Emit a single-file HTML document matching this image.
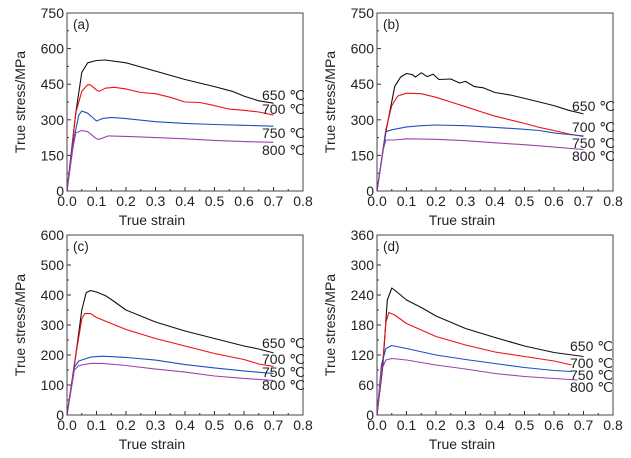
<!DOCTYPE html>
<html><head><meta charset="utf-8"><style>
body{margin:0;background:#fff}
svg{display:block}
text{font-family:"Liberation Sans",sans-serif;fill:#222}
</style></head><body>
<svg id="fig" width="631" height="458" viewBox="0 0 631 458" xmlns="http://www.w3.org/2000/svg"></svg>
<script>
const xTicks=[0,0.1,0.2,0.3,0.4,0.5,0.6,0.7,0.8];
const tempLabels=["650 ℃","700 ℃","750 ℃","800 ℃"];
const colors=["#111","#f01010","#1f4fc0","#a040b0"];
const aTicks=[0,150,300,450,600,750];
const a650=[[0,0],[0.03,330],[0.05,500],[0.07,540],[0.1,550],[0.13,552],[0.2,540],[0.3,505],[0.4,470],[0.5,440],[0.56,420],[0.6,400],[0.65,380],[0.7,370]];
const a700=[[0,0],[0.03,330],[0.05,420],[0.07,448],[0.08,447],[0.1,425],[0.11,420],[0.13,433],[0.16,437],[0.2,430],[0.25,415],[0.3,410],[0.35,395],[0.4,375],[0.45,373],[0.5,360],[0.55,345],[0.6,340],[0.65,333],[0.7,320]];
const a750=[[0,0],[0.02,200],[0.04,320],[0.05,337],[0.07,328],[0.1,295],[0.12,305],[0.15,310],[0.2,305],[0.3,292],[0.4,285],[0.5,280],[0.6,277],[0.7,273]];
const a800=[[0,0],[0.02,180],[0.03,245],[0.05,255],[0.07,250],[0.1,220],[0.11,218],[0.14,232],[0.2,230],[0.3,225],[0.4,220],[0.5,213],[0.6,208],[0.7,205]];
const bTicks=[0,150,300,450,600,750];
const b650=[[0,0],[0.03,250],[0.06,440],[0.08,480],[0.1,495],[0.12,490],[0.13,480],[0.15,498],[0.17,482],[0.19,492],[0.21,470],[0.25,472],[0.28,455],[0.3,462],[0.33,440],[0.36,435],[0.38,425],[0.4,415],[0.45,405],[0.5,390],[0.55,375],[0.6,360],[0.65,340],[0.7,325]];
const b700=[[0,0],[0.03,260],[0.05,360],[0.07,400],[0.1,412],[0.15,410],[0.2,395],[0.25,375],[0.3,355],[0.35,335],[0.4,315],[0.45,300],[0.5,285],[0.55,268],[0.6,255],[0.65,240],[0.7,230]];
const b750=[[0,0],[0.03,250],[0.05,258],[0.1,270],[0.15,275],[0.2,278],[0.3,275],[0.4,268],[0.5,260],[0.55,255],[0.6,245],[0.65,238],[0.7,232]];
const b800=[[0,0],[0.02,170],[0.03,215],[0.06,215],[0.1,220],[0.2,218],[0.3,212],[0.4,203],[0.5,195],[0.6,185],[0.7,175]];
const cTicks=[0,100,200,300,400,500,600];
const c650=[[0,0],[0.03,200],[0.05,350],[0.065,408],[0.08,415],[0.1,410],[0.13,398],[0.15,385],[0.2,350],[0.3,310],[0.4,280],[0.5,255],[0.6,230],[0.65,220],[0.7,207]];
const c700=[[0,0],[0.03,200],[0.05,320],[0.06,338],[0.08,338],[0.1,325],[0.15,305],[0.2,285],[0.3,255],[0.4,230],[0.5,205],[0.6,185],[0.65,170],[0.7,162]];
const c750=[[0,0],[0.025,160],[0.04,180],[0.08,193],[0.12,196],[0.2,192],[0.3,183],[0.4,168],[0.5,157],[0.6,147],[0.7,138]];
const c800=[[0,0],[0.025,150],[0.04,165],[0.08,172],[0.12,172],[0.2,165],[0.3,153],[0.4,143],[0.5,130],[0.6,122],[0.7,115]];
const dTicks=[0,60,120,180,240,300,360];
const d650=[[0,0],[0.02,100],[0.035,230],[0.05,254],[0.07,245],[0.1,230],[0.15,215],[0.2,198],[0.3,173],[0.4,155],[0.5,138],[0.6,125],[0.7,117]];
const d700=[[0,0],[0.02,110],[0.03,185],[0.04,205],[0.06,200],[0.1,183],[0.2,157],[0.3,140],[0.4,126],[0.5,117],[0.6,108],[0.66,100]];
const d750=[[0,0],[0.015,100],[0.03,133],[0.05,139],[0.1,133],[0.2,120],[0.3,111],[0.4,103],[0.5,95],[0.6,89],[0.66,87]];
const d800=[[0,0],[0.015,90],[0.03,110],[0.05,113],[0.1,110],[0.2,100],[0.3,92],[0.4,83],[0.5,77],[0.6,73],[0.68,70]];

const NS="http://www.w3.org/2000/svg";
const svg=document.getElementById('fig');
function mk(tag,attrs,parent,txt){const e=document.createElementNS(NS,tag);for(const k in attrs)e.setAttribute(k,attrs[k]);if(txt!==undefined)e.textContent=txt;parent.appendChild(e);return e;}

const panels=[
 {id:"a",L:67,T:13,W:236,H:178,ticks:aTicks,series:[a650,a700,a750,a800],lx:262,ly:[95,109,133,150]},
 {id:"b",L:377,T:13,W:236,H:178,ticks:bTicks,series:[b650,b700,b750,b800],lx:572,ly:[106,127,143,156]},
 {id:"c",L:67,T:235,W:236,H:180,ticks:cTicks,series:[c650,c700,c750,c800],lx:262,ly:[343,359,372,385]},
 {id:"d",L:377,T:235,W:236,H:180,ticks:dTicks,series:[d650,d700,d750,d800],lx:570,ly:[346,363,375,387]}
];
panels.forEach(p=>{
 const g=mk('g',{},svg);
 
 
 const ymax=p.ticks[p.ticks.length-1];
 const X=v=>p.L+v/0.8*p.W;
 const Y=v=>p.T+p.H-v/ymax*p.H;
 p.ticks.forEach(t=>{
  mk('line',{x1:p.L,x2:p.L+4,y1:Y(t),y2:Y(t),stroke:'#333','stroke-width':1},g);
  const tl=mk('text',{x:p.L-3,y:Y(t)+5,'text-anchor':'end','font-size':14},g,String(t));
  
  
 });
 for(let i=0;i<p.ticks.length-1;i++){const m=(p.ticks[i]+p.ticks[i+1])/2;mk('line',{x1:p.L,x2:p.L+2,y1:Y(m),y2:Y(m),stroke:'#333'},g);}
 xTicks.forEach(t=>{
  mk('line',{x1:X(t),x2:X(t),y1:p.T+p.H,y2:p.T+p.H-4,stroke:'#333'},g);
  const tl=mk('text',{x:X(t),y:p.T+p.H+15,'text-anchor':'middle','font-size':14},g,t.toFixed(1));
  
  
 });
 for(let i=0;i<xTicks.length-1;i++){const m=(xTicks[i]+xTicks[i+1])/2;mk('line',{x1:X(m),x2:X(m),y1:p.T+p.H,y2:p.T+p.H-2,stroke:'#333'},g);}
 p.series.forEach((s,i)=>{
  const d=s.map((pt,j)=>(j?'L':'M')+X(pt[0]).toFixed(1)+','+Y(pt[1]).toFixed(1)).join('');
  const pa=mk('path',{d:d,fill:'none',stroke:colors[i],'stroke-width':1.1,'stroke-linejoin':'round'},g);
  
  
  const lt=mk('text',{x:p.lx,y:p.ly[i]+5,'font-size':14},g,tempLabels[i]);
  
  
 });
 const fr=mk('rect',{x:p.L,y:p.T,width:p.W,height:p.H,fill:'none',stroke:'#444','stroke-width':1},g);
 
 
 const pl=mk('text',{x:p.L+6,y:p.T+16,'font-size':13.5},g,'('+p.id+')');
 
 
 const xt=mk('text',{x:p.L+p.W/2-33,y:p.T+p.H+34,'text-anchor':'middle','font-size':14},g,'True strain');
 
 
 const cy=p.T+p.H/2;const cx=p.L-42;
 const yt=mk('text',{x:cx,y:cy,'text-anchor':'middle','font-size':14,transform:'rotate(-90 '+cx+' '+cy+')'},g,'True stress/MPa');
 
 
});
</script>
</body></html>
